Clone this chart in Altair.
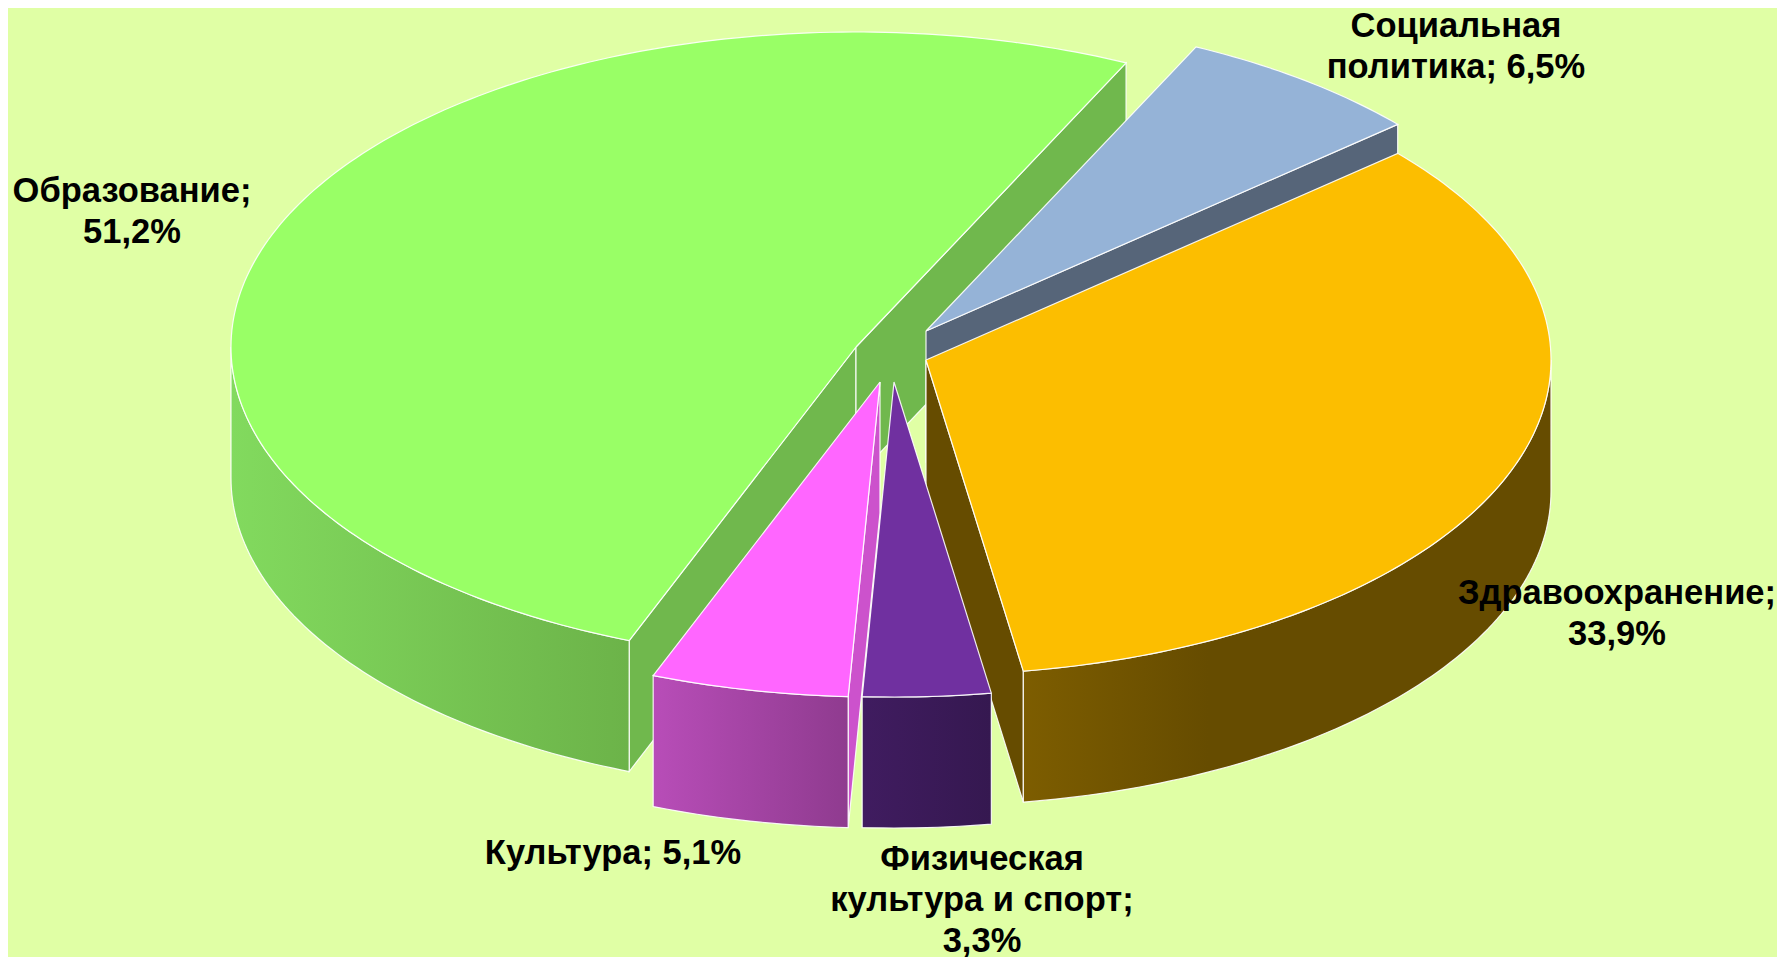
import numpy as np
import pandas as pd
import altair as alt

# --- data ---
categories = ["Социальная политика", "Образование", "Здравоохранение", "Физическая культура и спорт", "Культура"]
shares = [6.5, 51.2, 33.9, 3.3, 5.1]
# clockwise order of the slices round the pie, starting at the start angle
pie_order = ["Социальная политика", "Здравоохранение", "Физическая культура и спорт", "Культура", "Образование"]
label_lines = {
    "Социальная политика": "Социальная\nполитика; 6,5%",
    "Образование": "Образование;\n51,2%",
    "Здравоохранение": "Здравоохранение;\n33,9%",
    "Физическая культура и спорт": "Физическая\nкультура и спорт;\n3,3%",
    "Культура": "Культура; 5,1%",
}

# --- layout and style (page pixels) ---
MARGIN = 8
W, H = 1769, 949
BG = "#E0FFA5"
START = 25.6
RX, RY, DEPTH = 625.0, 315.0, 131.0
apex = {
    "Социальная политика": (926, 331),
    "Образование": (856, 347),
    "Здравоохранение": (926, 360),
    "Физическая культура и спорт": (894, 382),
    "Культура": (880, 382),
}
label_pos = {
    "Социальная политика": (1456, 27),
    "Образование": (132, 192),
    "Здравоохранение": (1617, 594),
    "Физическая культура и спорт": (982, 860),
    "Культура": (613, 854),
}
top_col = {
    "Социальная политика": "#95B3D7",
    "Образование": "#99FF66",
    "Здравоохранение": "#FCBE00",
    "Физическая культура и спорт": "#7030A0",
    "Культура": "#FF66FF",
}
wall_col = {
    "Социальная политика": "#566579",
    "Образование": "#70B84D",
    "Здравоохранение": "#664C00",
    "Физическая культура и спорт": "#381A55",
    "Культура": "#CC52CC",
}
side_grad = {
    "Образование": [("#82DA5E", 0.0), ("#6CB349", 1.0)],
    "Здравоохранение": [("#7D5D00", 0.0), ("#664C00", 0.35), ("#664C00", 1.0)],
    "Физическая культура и спорт": [("#401C60", 0.0), ("#351850", 1.0)],
    "Культура": [("#B84DB8", 0.0), ("#8F3B8F", 1.0)],
}
draw_order = ["Образование", "Социальная политика", "Здравоохранение", "Физическая культура и спорт", "Культура"]
share_of = dict(zip(categories, shares))

x_scale = alt.Scale(domain=[MARGIN, MARGIN + W], range=[0, W], nice=False, zero=False)
y_scale = alt.Scale(domain=[MARGIN, MARGIN + H], range=[0, H], nice=False, zero=False)


def rim(c, t, dz=0.0):
    r = np.radians(t)
    return c[0] + RX * np.sin(r), c[1] - RY * np.cos(r) + dz


def poly(points, fill):
    pts = list(points) + [points[0]]
    df = pd.DataFrame({"px": [p[0] for p in pts], "py": [p[1] for p in pts], "k": range(len(pts))})
    return (
        alt.Chart(df)
        .mark_line(fill=fill, stroke="white", strokeWidth=1.2, strokeOpacity=0.9, interpolate="linear", clip=False)
        .encode(
            x=alt.X("px:Q", scale=x_scale, axis=None),
            y=alt.Y("py:Q", scale=y_scale, axis=None),
            order=alt.Order("k:O"),
        )
    )


def gradient(stops):
    return alt.LinearGradient(
        gradient="linear", x1=0, x2=1, y1=0, y2=0,
        stops=[alt.GradientStop(color=c, offset=o) for c, o in stops],
    )


# angular span of each slice, from its share
spans = {}
t = START
for name in pie_order:
    spans[name] = (t, t + share_of[name] * 3.6)
    t += share_of[name] * 3.6

layers = []
for name in draw_order:
    c = apex[name]
    t0, t1 = spans[name]
    # cut faces, only those turned towards the viewer
    for ang, side in ((t0, -90), (t1, 90)):
        if np.cos(np.radians(ang + side)) < 0:
            layers.append(poly([c, rim(c, ang), rim(c, ang, DEPTH), (c[0], c[1] + DEPTH)], wall_col[name]))
    # outer rim on the front half
    ts = [a for a in np.arange(np.ceil(t0), np.floor(t1) + 1) if 90 <= a % 360 <= 270]
    front = [a for a in [t0] + ts + [t1] if 90 <= a % 360 <= 270]
    if name in side_grad and front:
        upper = [rim(c, a) for a in front]
        lower = [rim(c, a, DEPTH) for a in reversed(front)]
        layers.append(poly(upper + lower, gradient(side_grad[name])))
    # top face
    arc = np.linspace(t0, t1, max(int(t1 - t0) + 2, 3))
    layers.append(poly([c] + [rim(c, a) for a in arc], top_col[name]))

labels = pd.DataFrame({
    "px": [label_pos[n][0] for n in categories],
    "py": [label_pos[n][1] for n in categories],
    "txt": [label_lines[n] for n in categories],
})
text = (
    alt.Chart(labels)
    .mark_text(font="Liberation Sans", fontWeight="bold", fontSize=34.5, color="#000000",
               lineBreak="\n", lineHeight=41, align="center", baseline="middle")
    .encode(
        x=alt.X("px:Q", scale=x_scale, axis=None),
        y=alt.Y("py:Q", scale=y_scale, axis=None),
        text="txt:N",
    )
)
layers.append(text)

chart = (
    alt.layer(*layers)
    .properties(
        width=W, height=H, background=BG, padding=0,
        autosize=alt.AutoSizeParams(type="none"),
    )
    .configure_view(stroke=None)
)
chart.save("out.html", embed_options={"renderer": "svg", "actions": False})
